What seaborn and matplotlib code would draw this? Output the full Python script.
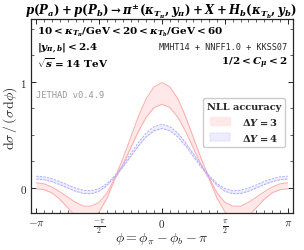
import numpy as np
import matplotlib
matplotlib.use('Agg')
import matplotlib.pyplot as plt
from matplotlib.patches import Patch
import seaborn as sns

# azimuthal separation grid (step pi/16)
phi = np.linspace(-np.pi, np.pi, 33)

# Delta Y = 3 band (upper / lower edge)
dy3_up = [0.045, 0.035, 0.005, -0.04, -0.09, -0.14, -0.175, -0.175, -0.14, -0.05, 0.09,
          0.27, 0.47, 0.67, 0.84, 0.95, 0.99, 0.95, 0.84, 0.67, 0.47, 0.27,
          0.09, -0.05, -0.14, -0.175, -0.175, -0.14, -0.09, -0.04, 0.005, 0.035, 0.045]
dy3_lo = [-0.012, -0.02, -0.05, -0.11, -0.19, -0.27, -0.31, -0.30, -0.23, -0.10, 0.08,
          0.21, 0.37, 0.53, 0.665, 0.755, 0.786, 0.755, 0.665, 0.53, 0.37, 0.21,
          0.08, -0.10, -0.23, -0.30, -0.31, -0.27, -0.19, -0.11, -0.05, -0.02, -0.012]

# Delta Y = 4 band (upper / lower edge)
dy4_up = [0.107, 0.101, 0.083, 0.057, 0.025, -0.005, -0.026, -0.030, -0.010, 0.037, 0.112,
          0.209, 0.317, 0.424, 0.515, 0.575, 0.597, 0.575, 0.515, 0.424, 0.317, 0.209,
          0.112, 0.037, -0.010, -0.030, -0.026, -0.005, 0.025, 0.057, 0.083, 0.101, 0.107]
dy4_lo = [0.08, 0.074, 0.055, 0.028, -0.004, -0.035, -0.056, -0.058, -0.035, 0.02, 0.10,
          0.19, 0.292, 0.393, 0.479, 0.536, 0.557, 0.536, 0.479, 0.393, 0.292, 0.19,
          0.10, 0.02, -0.035, -0.058, -0.056, -0.035, -0.004, 0.028, 0.055, 0.074, 0.08]

xtick_pos = [-np.pi, -np.pi / 2, 0, np.pi / 2, np.pi]
xtick_lab = [r'$-\pi$', r'$\frac{-\pi}{2}$', r'$0$', r'$\frac{\pi}{2}$', r'$\pi$']

sns.set_style('ticks')
plt.rcParams['font.family'] = ['DejaVu Serif']
plt.rcParams['mathtext.fontset'] = 'cm'
plt.rcParams['mathtext.rm'] = 'DejaVu Serif:bold'
plt.rcParams['mathtext.it'] = 'DejaVu Serif:italic:bold'
plt.rcParams['mathtext.bf'] = 'DejaVu Serif:bold'
plt.rcParams['mathtext.cal'] = 'DejaVu Serif:italic:bold'

red_line, red_fill = '#ffaaaa', '#ffe8e8'
blue_line, blue_fill = '#aeaeff', '#ededff'

fig = plt.figure(figsize=(3.04, 2.51), dpi=100)
ax = fig.add_axes([31 / 304, 37 / 251, 262 / 304, 194 / 251])

ax.fill_between(phi, dy3_lo, dy3_up, color=red_fill, lw=0)
sns.lineplot(x=phi, y=dy3_up, ax=ax, color=red_line, lw=0.7)
sns.lineplot(x=phi, y=dy3_lo, ax=ax, color=red_line, lw=0.7)

ax.fill_between(phi, dy4_lo, dy4_up, color=blue_fill, lw=0)
sns.lineplot(x=phi, y=dy4_up, ax=ax, color=blue_line, lw=0.7, linestyle=(0, (2.5, 1.2)))
sns.lineplot(x=phi, y=dy4_lo, ax=ax, color=blue_line, lw=0.7, linestyle=(0, (2.5, 1.2)))

ax.set_xlim(-np.pi - 0.13, np.pi + 0.13)
ax.set_ylim(-0.24, 1.59)
ax.set_xticks(xtick_pos)
ax.set_xticklabels(xtick_lab)
ax.set_xticks(np.arange(-16, 17) * np.pi / 16, minor=True)
ax.set_yticks([0, 1])
ax.set_yticklabels([r'$0$', r'$1$'])
ax.set_yticks([0.25, 0.5, 0.75, 1.25, 1.5], minor=True)
ax.tick_params(which='both', direction='in', top=True, right=True, labelsize=8, pad=3)
ax.tick_params(which='major', length=3.5, width=0.7)
ax.tick_params(which='minor', length=2, width=0.5)
for s in ax.spines.values():
    s.set_linewidth(0.9)


def px(x, y):
    return x / 304, 1 - y / 251


# axis labels placed in pixels of the reference
fig.text(*px(162, 239), r'$\phi = \phi_\pi - \phi_b - \pi$', ha='center', va='center', fontsize=10)
fig.text(*px(10, 118), r'$\mathrm{d}\sigma\,/\,(\sigma\,\mathrm{d}\phi)$', ha='center', va='center',
         rotation=90, fontsize=10)

bold = dict(math_fontfamily='custom', color='black')
fig.text(*px(161, 12), r'$p(P_a) + p(P_b) \rightarrow \pi^{\pm}(\kappa_{T_\pi}, y_\pi) + \mathcal{X} + H_b(\kappa_{T_b}, y_b)$',
         ha='center', va='center', fontsize=8.5, **bold)
fig.text(*px(37, 32), r'$10 < \kappa_{T_\pi}/\mathrm{GeV} < 20 < \kappa_{T_b}/\mathrm{GeV} < 60$',
         ha='left', va='center', fontsize=7.5, **bold)
fig.text(*px(37, 48), r'$|y_{\pi,b}| < 2.4$', ha='left', va='center', fontsize=7.5, **bold)
fig.text(*px(37, 63), r'$\sqrt{s} = 14\ \mathrm{TeV}$', ha='left', va='center', fontsize=7.5, **bold)
fig.text(*px(287, 48), 'MMHT14 + NNFF1.0 + KKSS07', ha='right', va='center', fontsize=6.1,
         family='DejaVu Sans Mono')
fig.text(*px(287, 63), r'$1/2 < C_\mu < 2$', ha='right', va='center', fontsize=7.5, **bold)
fig.text(*px(36, 96), 'JETHAD v0.4.9', ha='left', va='center', fontsize=6.3,
         family='DejaVu Sans Mono', color='#999999')

handles = [Patch(facecolor=red_fill, edgecolor=red_fill),
           Patch(facecolor=blue_fill, edgecolor=blue_line, linestyle=(0, (2, 1)), lw=0.3)]
leg = ax.legend(handles, [r'$\Delta Y = 3$', r'$\Delta Y = 4$'], title='NLL accuracy',
                loc='upper right', bbox_to_anchor=(0.99, 0.62), fontsize=7.2,
                title_fontproperties={'weight': 'bold', 'size': 7}, handlelength=2.0,
                handleheight=0.9, handletextpad=1.2, borderpad=0.4, labelspacing=0.5,
                framealpha=1, edgecolor='#cccccc', fancybox=True)
for t in leg.get_texts():
    t.set_math_fontfamily('custom')

fig.savefig('out.png', dpi=100)
